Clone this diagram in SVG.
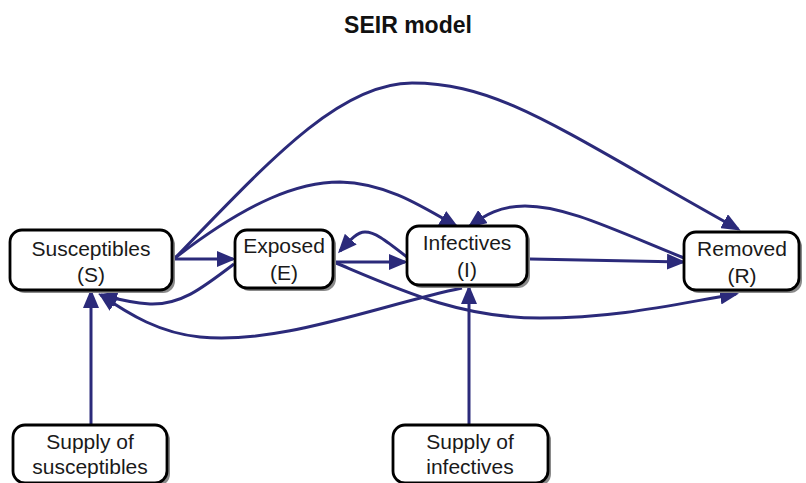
<svg xmlns="http://www.w3.org/2000/svg" width="806" height="483" viewBox="0 0 806 483">
<defs>
<style>
.box{fill:#fff;stroke:#000;stroke-width:2.8}
.shadow{fill:#8a8a8a;stroke:none}
.lbl{font-family:"Liberation Sans",Arial,sans-serif;font-size:21px;fill:#1a1a1a;text-anchor:middle}
.title{font-family:"Liberation Sans",Arial,sans-serif;font-size:23px;font-weight:bold;fill:#111;text-anchor:middle}
.edge{fill:none;stroke:#2b2a7a;stroke-width:3;marker-end:url(#ah)}
</style>
<marker id="ah" markerUnits="userSpaceOnUse" markerWidth="20" markerHeight="16" refX="16" refY="8" orient="auto">
<path d="M0,0 L19,8 L0,16 z" fill="#2b2a7a"/>
</marker>
</defs>
<rect width="806" height="483" fill="#fff"/>
<text class="title" x="408" y="33">SEIR model</text>

<g id="connectors">
<path class="edge" d="M175,258 C270,160 340,83 412,83 C500,83 560,130 738,229"/>
<path class="edge" d="M175,258 C250,200 300,182 340,182 C385,183 420,205 456,226"/>
<path class="edge" d="M175,259 L233,259"/>
<path class="edge" d="M335,262 L405,262"/>
<path class="edge" d="M407,257 C385,240 375,232 365,232 C357,232 350,240 340,251"/>
<path class="edge" d="M336,263 C400,290 460,318 540,318 C620,318 680,303 736,294"/>
<path class="edge" d="M530,259 L683,262"/>
<path class="edge" d="M684,258 C610,228 565,206 525,206 C500,206 485,215 470,226"/>
<path class="edge" d="M234,264 C200,290 180,305 150,304 C135,303 120,300 101,295"/>
<path class="edge" d="M462,288 C380,305 280,345 200,337 C160,333 130,315 101,295"/>
<path class="edge" d="M91,425 L91,292"/>
<path class="edge" d="M469,425 L469,288"/>
</g>

<g id="susceptibles">
<rect class="shadow" x="13" y="233" width="162" height="60" rx="12"/>
<rect class="box" x="10" y="230" width="162" height="60" rx="12"/>
<text class="lbl" x="91" y="256">Susceptibles</text>
<text class="lbl" x="91" y="282">(S)</text>
</g>
<g id="exposed">
<rect class="shadow" x="238" y="233" width="98" height="58" rx="12"/>
<rect class="box" x="235" y="230" width="98" height="58" rx="12"/>
<text class="lbl" x="284" y="253">Exposed</text>
<text class="lbl" x="284" y="280">(E)</text>
</g>
<g id="infectives">
<rect class="shadow" x="410" y="229" width="120" height="59" rx="12"/>
<rect class="box" x="407" y="226" width="120" height="59" rx="12"/>
<text class="lbl" x="467" y="250">Infectives</text>
<text class="lbl" x="467" y="277">(I)</text>
</g>
<g id="removed">
<rect class="shadow" x="687" y="235" width="115" height="58" rx="12"/>
<rect class="box" x="684" y="232" width="115" height="58" rx="12"/>
<text class="lbl" x="742" y="256">Removed</text>
<text class="lbl" x="742" y="283">(R)</text>
</g>
<g id="supply-susceptibles">
<rect class="shadow" x="16" y="428" width="154" height="58" rx="12"/>
<rect class="box" x="13" y="425" width="154" height="58" rx="12"/>
<text class="lbl" x="90" y="449">Supply of</text>
<text class="lbl" x="90" y="474">susceptibles</text>
</g>
<g id="supply-infectives">
<rect class="shadow" x="396" y="428" width="155" height="58" rx="12"/>
<rect class="box" x="393" y="425" width="155" height="58" rx="12"/>
<text class="lbl" x="470" y="449">Supply of</text>
<text class="lbl" x="470" y="474">infectives</text>
</g>
</svg>
